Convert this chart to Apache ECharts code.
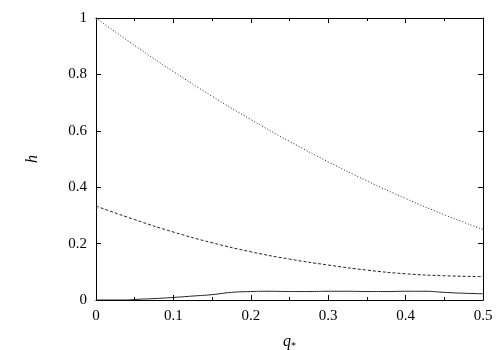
<!DOCTYPE html>
<html><head><meta charset="utf-8">
<script src="https://cdn.jsdelivr.net/npm/echarts@6/dist/echarts.min.js"></script>
<style>html,body{margin:0;padding:0;background:#fff}#c{width:500px;height:350px}</style>
</head><body><div id="c"></div>
<script>
const qTop = [0, 0.05, 0.1, 0.15, 0.2, 0.25, 0.3, 0.35, 0.4, 0.45, 0.5];
const hTop = [1, 0.9025, 0.81, 0.7225, 0.64, 0.5625, 0.49, 0.4225, 0.36, 0.3025, 0.25];
const qMid = [0, 0.05, 0.1, 0.15, 0.2, 0.25, 0.3, 0.35, 0.4, 0.45, 0.5];
const hMid = [0.333, 0.285, 0.241, 0.203, 0.171, 0.145, 0.124, 0.106, 0.093, 0.086, 0.083];
const qLow = [0, 0.025, 0.04, 0.05, 0.075, 0.1, 0.125, 0.15, 0.175, 0.2, 0.225, 0.25, 0.275, 0.3, 0.325, 0.35, 0.375, 0.4, 0.425, 0.45, 0.475, 0.5];
const hLow = [0, 0, 0, 0.002, 0.005, 0.009, 0.014, 0.019, 0.027, 0.030, 0.031, 0.030, 0.030, 0.031, 0.031, 0.030, 0.030, 0.031, 0.031, 0.027, 0.024, 0.022];
const xTicks = [0, 0.1, 0.2, 0.3, 0.4, 0.5];
const yTicks = [0, 0.2, 0.4, 0.6, 0.8, 1];

const font = 'Liberation Serif';
const pair = (xs, ys) => xs.map((x, i) => [x, ys[i]]);
const axisCommon = {
  min: 0,
  axisLine: { show: true, onZero: false, lineStyle: { color: '#000', width: 1 } },
  axisTick: { show: true, inside: true, length: 5, lineStyle: { color: '#000', width: 1 } },
  splitLine: { show: false }
};
const chart = echarts.init(document.getElementById('c'), null, { renderer: 'canvas' });
chart.setOption({
  animation: false,
  backgroundColor: '#fff',
  grid: { left: 96, right: 17, top: 18, bottom: 50, containLabel: false, outerBoundsMode: 'none' },
  xAxis: [
    Object.assign({}, axisCommon, {
      type: 'value', max: 0.5, interval: 0.1, position: 'bottom',
      minorTick: { show: true, splitNumber: 2, length: 3, lineStyle: { color: '#000' } },
      axisLabel: { color: '#000', fontFamily: font, fontSize: 15, margin: 9,
        formatter: v => (xTicks.indexOf(Math.round(v * 10) / 10) >= 0 ? String(Math.round(v * 10) / 10) : '') },
      name: '{q|q}{s|*}', nameLocation: 'middle', nameGap: 33,
      nameTextStyle: { rich: {
        q: { fontFamily: font, fontStyle: 'italic', fontSize: 16, color: '#000' },
        s: { fontFamily: font, fontSize: 10, color: '#000', verticalAlign: 'bottom', padding: [8, 0, 0, 0] }
      } }
    }),
    Object.assign({}, axisCommon, {
      type: 'value', max: 0.5, interval: 0.1, position: 'top',
      minorTick: { show: true, splitNumber: 2, length: 3, lineStyle: { color: '#000' } },
      axisLabel: { show: false }
    })
  ],
  yAxis: [
    Object.assign({}, axisCommon, {
      type: 'value', max: 1, interval: 0.2, position: 'left',
      axisLabel: { color: '#000', fontFamily: font, fontSize: 15, margin: 9,
        formatter: v => String(Math.round(v * 10) / 10) },
      name: 'h', nameLocation: 'middle', nameGap: 55, nameRotate: 90,
      nameTextStyle: { fontFamily: font, fontStyle: 'italic', fontSize: 16, color: '#000' }
    }),
    Object.assign({}, axisCommon, {
      type: 'value', max: 1, interval: 0.2, position: 'right',
      axisLabel: { show: false }
    })
  ],
  series: [
    { type: 'line', data: pair(qTop, hTop), smooth: true, symbol: 'none',
      lineStyle: { color: '#222', width: 1, type: [1, 2] } },
    { type: 'line', data: pair(qMid, hMid), smooth: true, symbol: 'none',
      lineStyle: { color: '#222', width: 1, type: [3, 2] } },
    { type: 'line', data: pair(qLow, hLow), smooth: true, symbol: 'none',
      lineStyle: { color: '#222', width: 1 } }
  ]
});
</script></body></html>
